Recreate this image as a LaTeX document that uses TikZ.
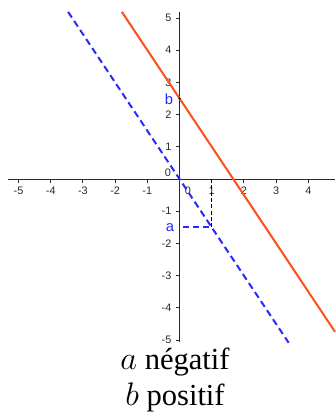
\documentclass[tikz,border=0pt]{standalone}
\usepackage{fontspec}
\setmainfont{Liberation Serif}
\setsansfont{Liberation Sans}
\usetikzlibrary{positioning}
\definecolor{linered}{RGB}{255,80,30}
\definecolor{lineblue}{RGB}{40,40,255}
\definecolor{axisgray}{RGB}{40,40,40}

\tikzset{
  axisline/.style={axisgray, line width=0.4pt},
  ticklabel/.style={font=\sffamily\fontsize{4.8}{5}\selectfont, text=axisgray, inner sep=0pt},
  ptlabel/.style={font=\sffamily\fontsize{6.5}{7}\selectfont, text=lineblue, inner sep=0pt},
  captionline/.style={font=\fontsize{13.5}{16}\selectfont, inner sep=0pt, anchor=base},
}

\begin{document}
\begin{tikzpicture}[x=0.5cm, y=0.5cm]
    \useasboundingbox (-5.575,-7.298) rectangle (4.829,5.559);
    % axes
    \coordinate (xmin) at (-5.32,0);
    \coordinate (xmax) at (4.829,0);
    \coordinate (ymin) at (0,-5.06);
    \coordinate (ymax) at (0,5.19);
    \draw[axisline] (xmin) -- (xmax);
    \draw[axisline] (ymin) -- (ymax);
    \foreach \k in {-5,...,-1,1,2,3,4} {
      \draw[axisline] (\k,0) -- (\k,-0.12);
      \node[ticklabel] at (\k,-0.36) {\k};
    }
    \foreach \k in {-5,...,-1,1,2,3,4,5} {
      \draw[axisline] (0,\k) -- (-0.12,\k);
      \node[ticklabel, anchor=east] at (-0.24,\k) {\k};
    }
    \node[ticklabel] (zeroup) at (-0.36,0.19) {0};
    \node[ticklabel] (zerodown) at (0.26,-0.38) {0};
    % lines
    \coordinate (rtop) at (-1.79,5.19);
    \coordinate (rbot) at (4.83,-4.745);
    \coordinate (btop) at (-3.46,5.19);
    \coordinate (bbot) at (3.39,-5.085);
    \coordinate (A) at (1,-1.5);
    \coordinate (Ax) at (1,0);
    \coordinate (Ay) at (0.1,-1.5);
    \coordinate (B) at (0,2.5);
    \draw[linered, line width=0.9pt] (rtop) -- (rbot);
    \draw[lineblue, line width=0.9pt, dash pattern=on 3pt off 1.8pt] (btop) -- (bbot);
    \draw[black, line width=0.5pt, dash pattern=on 1.8pt off 1pt] (Ax) -- (A);
    \draw[lineblue, line width=0.85pt, dash pattern=on 2.8pt off 1.6pt] (Ay) -- (A);
    \fill[black] (B) circle (0.5pt);
    \node[ptlabel] (blab) at (-0.33,2.48) {b};
    \node[ptlabel] (alab) at (-0.3,-1.52) {a};
    % caption
    \node[captionline] (cap1) at (-0.14,-5.93) {$a$ négatif};
    \node[captionline] (cap2) at (-0.14,-7.03) {$b$ positif};
\end{tikzpicture}
\end{document}
